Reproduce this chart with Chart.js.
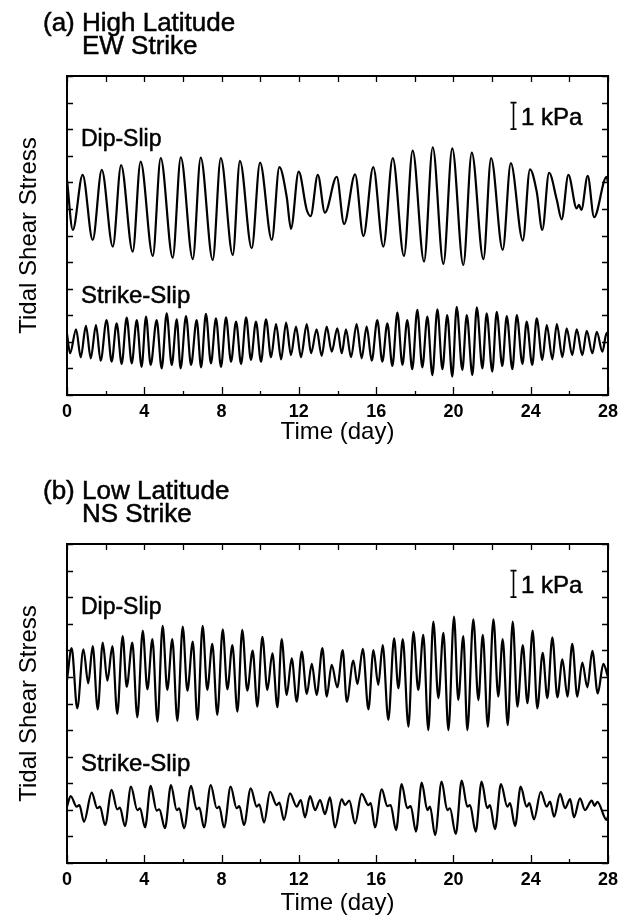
<!DOCTYPE html>
<html>
<head>
<meta charset="utf-8">
<script src="https://cdn.jsdelivr.net/npm/chart.js@4.4.0/dist/chart.umd.min.js"></script>
<style>
  body { margin: 0; background: #fff; }
  canvas { position: absolute; left: 0; }
  #chartA { top: 0; }
  #chartB { top: 460px; }
</style>
</head>
<body>
<canvas id="chartA" width="626" height="460"></canvas>
<canvas id="chartB" width="626" height="461"></canvas>
<script>
// tick positions
const dayTicks = [0, 2, 4, 6, 8, 10, 12, 14, 16, 18, 20, 22, 24, 26, 28];
const stressTicks = [0, 1, 2, 3, 4, 5, 6, 7, 8, 9, 10, 11, 12];

// (a) high latitude, dip-slip : turning points (day, kPa)
const highDipTime = [
  0, 0.30, 0.81, 1.33, 1.80, 2.37, 2.80, 3.40, 3.81, 4.44,
  4.85, 5.47, 5.89, 6.51, 6.92, 7.54, 7.96, 8.58, 8.95, 9.56,
  9.99, 10.60, 10.99, 11.37, 11.59, 11.99, 12.41, 12.61, 12.98, 13.35,
  13.96, 14.34, 14.91, 15.34, 15.85, 16.37, 16.86, 17.44, 17.89, 18.48,
  18.93, 19.48, 19.94, 20.51, 20.95, 21.55, 21.95, 22.55, 22.97, 23.59,
  23.96, 24.31, 24.60, 24.95, 25.35, 25.60, 25.95, 26.38, 26.50, 26.62,
  26.95, 27.28, 27.93, 28
];
const highDipStress = [
  8.09, 6.21, 8.28, 5.83, 8.47, 5.58, 8.65, 5.39, 8.78, 5.23,
  8.91, 5.17, 8.94, 5.11, 8.93, 5.08, 8.91, 5.27, 8.81, 5.52,
  8.74, 5.83, 8.57, 7.46, 6.25, 8.40, 6.96, 6.73, 8.28, 6.86,
  8.21, 6.43, 8.30, 5.98, 8.57, 5.58, 8.91, 5.23, 9.19, 5.02,
  9.32, 4.93, 9.28, 4.89, 9.12, 5.11, 8.91, 5.46, 8.72, 5.81,
  8.49, 7.65, 6.21, 8.36, 7.34, 6.61, 8.28, 7.02, 7.15, 6.96,
  8.24, 6.69, 8.21, 8.00
];

// (a) high latitude, strike-slip
const highStrikeTime = [
  0, 0.16, 0.47, 0.71, 0.98, 1.23, 1.50, 1.74, 2.05, 2.31,
  2.57, 2.83, 3.09, 3.35, 3.61, 3.86, 4.09, 4.33, 4.64, 4.90,
  5.16, 5.42, 5.68, 5.88, 6.16, 6.42, 6.71, 6.94, 7.19, 7.45,
  7.71, 7.97, 8.23, 8.49, 8.75, 9.01, 9.27, 9.52, 9.78, 10.04,
  10.30, 10.56, 10.82, 11.08, 11.34, 11.59, 11.85, 12.11, 12.41, 12.63,
  12.92, 13.18, 13.44, 13.70, 13.99, 14.22, 14.44, 14.70, 14.99, 15.25,
  15.51, 15.77, 16.06, 16.32, 16.58, 16.84, 17.10, 17.36, 17.61, 17.87,
  18.13, 18.39, 18.65, 18.91, 19.17, 19.43, 19.68, 19.94, 20.17, 20.46,
  20.69, 20.98, 21.21, 21.50, 21.72, 22.01, 22.24, 22.53, 22.76, 23.05,
  23.28, 23.57, 23.79, 24.08, 24.31, 24.60, 24.83, 25.12, 25.35, 25.64,
  25.86, 26.15, 26.38, 26.67, 26.90, 27.19, 27.42, 27.71, 27.93, 28
];
const highStrikeStress = [
  2.30, 1.57, 2.47, 1.42, 2.60, 1.38, 2.63, 1.29, 2.82, 1.25,
  2.70, 1.17, 2.91, 1.19, 2.82, 1.06, 2.95, 1.13, 2.82, 1.00,
  3.07, 1.13, 2.85, 1.00, 2.97, 1.13, 2.82, 1.04, 3.05, 1.19,
  2.88, 1.06, 2.92, 1.25, 2.76, 1.17, 2.92, 1.32, 2.76, 1.25,
  2.85, 1.42, 2.67, 1.34, 2.72, 1.50, 2.57, 1.42, 2.67, 1.57,
  2.47, 1.47, 2.57, 1.63, 2.51, 1.57, 2.47, 1.42, 2.67, 1.38,
  2.57, 1.29, 2.82, 1.25, 2.70, 1.09, 3.10, 1.13, 2.82, 0.97,
  3.20, 1.04, 2.95, 0.75, 3.22, 0.97, 3.01, 0.69, 3.32, 0.94,
  3.01, 0.75, 3.30, 1.00, 3.07, 0.88, 3.13, 1.09, 2.97, 0.97,
  3.01, 1.17, 2.76, 1.13, 2.88, 1.32, 2.63, 1.34, 2.67, 1.42,
  2.51, 1.50, 2.47, 1.50, 2.41, 1.57, 2.38, 1.63, 2.34, 2.25
];

// (b) low latitude, dip-slip
const lowDipTime = [
  0, 0.24, 0.53, 0.85, 1.10, 1.33, 1.59, 1.85, 2.09, 2.35,
  2.60, 2.88, 3.09, 3.38, 3.64, 3.92, 4.16, 4.42, 4.68, 4.95,
  5.19, 5.45, 5.71, 5.99, 6.23, 6.51, 6.75, 7.02, 7.26, 7.52,
  7.78, 8.06, 8.30, 8.56, 8.82, 9.07, 9.33, 9.61, 9.85, 10.11,
  10.37, 10.63, 10.89, 11.11, 11.37, 11.63, 11.89, 12.15, 12.41, 12.67,
  12.92, 13.22, 13.44, 13.70, 13.99, 14.27, 14.48, 14.82, 15.03, 15.31,
  15.60, 15.86, 16.11, 16.34, 16.63, 16.93, 17.15, 17.38, 17.67, 17.93,
  18.18, 18.44, 18.70, 18.96, 19.22, 19.48, 19.74, 20.03, 20.25, 20.51,
  20.72, 21.03, 21.29, 21.52, 21.78, 22.07, 22.32, 22.55, 22.81, 23.07,
  23.31, 23.59, 23.83, 24.10, 24.34, 24.62, 24.86, 25.12, 25.38, 25.64,
  25.90, 26.15, 26.41, 26.67, 26.93, 27.19, 27.47, 27.76, 28
];
const lowDipStress = [
  6.88, 8.08, 5.82, 8.04, 6.76, 8.16, 5.78, 8.29, 6.86, 8.16,
  5.61, 8.54, 6.63, 8.29, 5.48, 8.74, 6.53, 8.42, 5.32, 8.92,
  6.51, 8.42, 5.35, 8.89, 6.48, 8.33, 5.38, 8.92, 6.51, 8.24,
  5.57, 8.79, 6.53, 8.20, 5.69, 8.77, 6.48, 7.99, 5.88, 8.51,
  6.51, 7.89, 5.86, 8.42, 6.32, 7.70, 6.07, 7.95, 6.36, 7.49,
  6.32, 8.08, 6.26, 7.45, 6.61, 8.01, 6.07, 7.61, 6.73, 8.06,
  5.78, 8.01, 6.70, 8.20, 5.38, 8.45, 6.57, 8.42, 5.13, 8.70,
  6.51, 8.58, 5.00, 9.08, 6.20, 8.66, 5.00, 9.27, 6.13, 8.54,
  5.00, 9.17, 6.13, 8.58, 5.13, 9.17, 6.26, 8.42, 5.19, 9.08,
  5.88, 8.20, 6.01, 8.74, 5.82, 7.91, 6.20, 8.49, 6.23, 7.66,
  6.26, 8.24, 6.26, 7.54, 6.61, 7.98, 6.38, 7.49, 7.00
];

// (b) low latitude, strike-slip
const lowStrikeTime = [
  0, 0.19, 0.50, 0.64, 0.88, 1.28, 1.57, 1.71, 1.97, 2.31,
  2.60, 2.74, 3.00, 3.31, 3.64, 3.78, 4.04, 4.33, 4.64, 4.78,
  5.07, 5.38, 5.68, 5.81, 6.06, 6.42, 6.71, 6.85, 7.09, 7.44,
  7.75, 7.88, 8.13, 8.47, 8.78, 8.92, 9.16, 9.51, 9.82, 9.95,
  10.20, 10.51, 10.85, 10.99, 11.23, 11.54, 11.89, 12.10, 12.32, 12.58,
  12.84, 13.10, 13.35, 13.61, 13.87, 14.22, 14.39, 14.61, 14.91, 15.25,
  15.60, 15.72, 15.94, 16.29, 16.58, 16.75, 17.03, 17.32, 17.61, 17.79,
  18.06, 18.36, 18.65, 18.79, 19.05, 19.39, 19.68, 19.82, 20.12, 20.43,
  20.72, 20.86, 21.15, 21.46, 21.75, 21.89, 22.15, 22.46, 22.79, 22.93,
  23.19, 23.48, 23.79, 23.93, 24.17, 24.52, 24.83, 25.00, 25.21, 25.52,
  25.78, 26.04, 26.24, 26.55, 26.81, 27.16, 27.30, 27.45, 27.93, 28
];
const lowStrikeStress = [
  2.12, 2.52, 2.12, 2.18, 1.55, 2.65, 2.06, 2.12, 1.43, 2.75,
  2.02, 2.08, 1.39, 2.87, 1.99, 2.06, 1.34, 2.90, 1.97, 2.02,
  1.31, 2.93, 1.99, 2.06, 1.31, 2.90, 2.02, 2.08, 1.34, 2.93,
  2.06, 2.12, 1.34, 2.87, 2.06, 2.14, 1.43, 2.81, 2.12, 2.21,
  1.52, 2.68, 2.18, 2.27, 1.62, 2.62, 2.12, 2.37, 1.72, 2.52,
  1.99, 2.37, 1.84, 2.47, 1.34, 2.40, 2.18, 2.35, 1.49, 2.60,
  2.18, 2.25, 1.34, 2.77, 2.14, 2.18, 1.24, 2.97, 2.06, 2.14,
  1.18, 3.02, 1.99, 2.12, 1.05, 3.06, 1.99, 2.06, 1.09, 3.10,
  2.12, 2.18, 1.18, 3.06, 2.06, 2.18, 1.27, 2.97, 2.12, 2.25,
  1.39, 2.87, 2.12, 2.25, 1.64, 2.68, 2.12, 2.31, 1.74, 2.60,
  2.06, 2.40, 1.72, 2.43, 1.99, 2.35, 2.15, 2.30, 1.62, 1.75
];

const fontFamily = '"Liberation Sans", Arial, Helvetica, sans-serif';

// text with a hairline stroke so it reads as heavy as the scanned Helvetica
function heavyText(ctx, text, x, y) {
  ctx.fillText(text, x, y);
  ctx.strokeText(text, x, y);
}

const panelDecor = {
  id: "panelDecor",
  afterDraw(chart, args, o) {
    const { ctx, chartArea: a, scales } = chart;
    const x = scales.x;
    const y = scales.y;
    ctx.save();
    ctx.strokeStyle = "#000";
    ctx.lineWidth = 2;
    ctx.strokeRect(a.left, a.top, a.right - a.left, a.bottom - a.top);

    // inward tick marks on all four sides
    ctx.lineWidth = 1.3;
    ctx.beginPath();
    stressTicks.forEach((v) => {
      const py = Math.round(y.getPixelForValue(v)) + 0.5;
      ctx.moveTo(a.left, py);
      ctx.lineTo(a.left + 6, py);
      ctx.moveTo(a.right, py);
      ctx.lineTo(a.right - 6, py);
    });
    dayTicks.forEach((d) => {
      const px = Math.round(x.getPixelForValue(d)) + 0.5;
      const len = d % 4 === 0 ? 8 : 4;
      ctx.moveTo(px, a.bottom);
      ctx.lineTo(px, a.bottom - len);
      ctx.moveTo(px, a.top);
      ctx.lineTo(px, a.top + 6);
    });
    ctx.stroke();

    // 1 kPa scale bar
    const bx = Math.round(x.getPixelForValue(23.1)) + 0.5;
    const by1 = y.getPixelForValue(11);
    const by0 = y.getPixelForValue(10);
    ctx.lineWidth = 1.6;
    ctx.beginPath();
    ctx.moveTo(bx, by1);
    ctx.lineTo(bx, by0);
    ctx.moveTo(bx - 3, by1);
    ctx.lineTo(bx + 3, by1);
    ctx.moveTo(bx - 3, by0);
    ctx.lineTo(bx + 3, by0);
    ctx.stroke();

    ctx.fillStyle = "#000";
    ctx.lineWidth = 0.5;
    ctx.textBaseline = "alphabetic";
    ctx.font = "24px " + fontFamily;
    heavyText(ctx, "1 kPa", x.getPixelForValue(23.5), y.getPixelForValue(10.15));
    ctx.font = "23px " + fontFamily;
    heavyText(ctx, "Dip-Slip", x.getPixelForValue(0.72), y.getPixelForValue(9.37));
    ctx.font = "24px " + fontFamily;
    heavyText(ctx, "Strike-Slip", x.getPixelForValue(0.72), y.getPixelForValue(3.47));

    ctx.font = "26px " + fontFamily;
    heavyText(ctx, o.title[0], 43, a.top - 45);
    heavyText(ctx, o.title[1], 82, a.top - 45);
    heavyText(ctx, o.title[2], 82, a.top - 22);
    ctx.restore();
  },
};

function makePanel(canvasId, cfg) {
  const toPoints = (ts, vs) => ts.map((t, i) => ({ x: t, y: vs[i] }));
  const lineStyle = {
    borderColor: "#000",
    borderWidth: 2.2,
    pointRadius: 0,
    fill: false,
    cubicInterpolationMode: "monotone",
  };

  return new Chart(document.getElementById(canvasId), {
    type: "line",
    data: {
      datasets: [
        { label: "Dip-Slip", data: toPoints(cfg.dipTime, cfg.dipStress), ...lineStyle },
        { label: "Strike-Slip", data: toPoints(cfg.strikeTime, cfg.strikeStress), ...lineStyle },
      ],
    },
    options: {
      responsive: false,
      animation: false,
      devicePixelRatio: 1,
      layout: { padding: { top: cfg.top, right: 18, bottom: 0, left: 0 } },
      plugins: {
        legend: { display: false },
        tooltip: { enabled: false },
        panelDecor: { title: cfg.title },
      },
      scales: {
        x: {
          type: "linear",
          min: 0,
          max: 28,
          grid: { display: false, drawTicks: false },
          border: { display: false },
          ticks: {
            stepSize: 4,
            padding: 6,
            maxRotation: 0,
            color: "#000",
            font: { family: fontFamily, size: 18, weight: "bold" },
          },
          title: {
            display: true,
            text: "Time (day)",
            color: "#000",
            font: { family: fontFamily, size: 24 },
            padding: { top: 0, bottom: cfg.titlePad },
          },
          afterFit: (scale) => {
            scale.height = cfg.xHeight;
          },
        },
        y: {
          min: 0,
          max: 12,
          grid: { display: false, drawTicks: false },
          border: { display: false },
          ticks: { stepSize: 1, display: false },
          title: {
            display: true,
            text: "Tidal Shear Stress",
            color: "#000",
            font: { family: fontFamily, size: 24 },
            padding: { top: 15, bottom: 0 },
          },
          afterFit: (scale) => {
            scale.width = 67;
          },
        },
      },
    },
    plugins: [panelDecor],
  });
}

makePanel("chartA", {
  title: ["(a)", "High Latitude", "EW Strike"],
  dipTime: highDipTime,
  dipStress: highDipStress,
  strikeTime: highStrikeTime,
  strikeStress: highStrikeStress,
  top: 76,
  xHeight: 65,
  titlePad: 13,
});

makePanel("chartB", {
  title: ["(b)", "Low Latitude", "NS Strike"],
  dipTime: lowDipTime,
  dipStress: lowDipStress,
  strikeTime: lowStrikeTime,
  strikeStress: lowStrikeStress,
  top: 84,
  xHeight: 58,
  titlePad: 3,
});
</script>
</body>
</html>
